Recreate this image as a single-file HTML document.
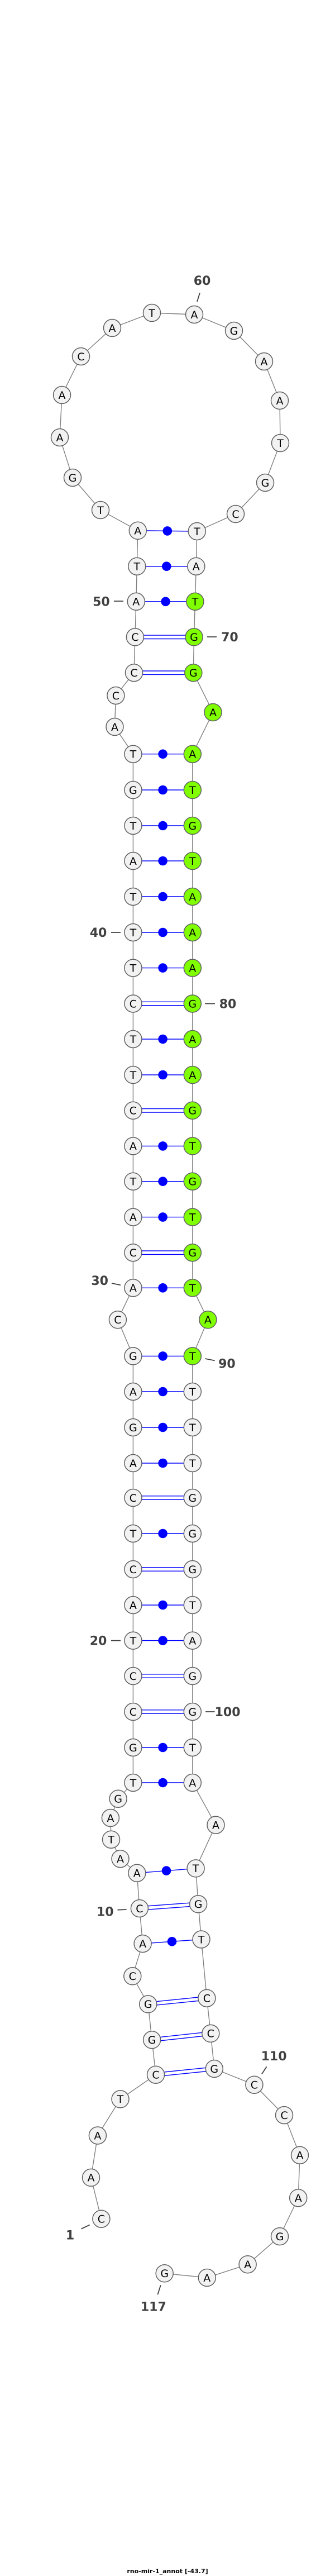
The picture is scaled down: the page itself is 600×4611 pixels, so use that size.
<!DOCTYPE html>
<html><head><meta charset="utf-8"><style>
html,body{margin:0;padding:0;background:#fff}
svg{display:block}
.n circle{fill:#f2f2f2;stroke:#606060;stroke-width:1.5}
.n circle.g{fill:#7fff00}
.n text{font-family:"DejaVu Sans","Liberation Sans",sans-serif;font-size:19px;text-anchor:middle;fill:#000}
.lb{font-family:"DejaVu Sans","Liberation Sans",sans-serif;font-size:22px;font-weight:bold;fill:#404040;text-anchor:middle}
.tk{stroke:#404040;stroke-width:1.8}
.p{stroke:#0000ff;stroke-width:1.4}
</style></head><body>
<svg width="600" height="4611" viewBox="0 0 600 4611" xmlns="http://www.w3.org/2000/svg">
<polyline fill="none" stroke="#808080" stroke-width="1.4" points="181.4,3971.7 163,3897.9 174.9,3822.5 215.5,3757.4 279,3713.7 272.1,3651.3 265.2,3587.4 237.3,3537.3 255.6,3479.1 249.9,3416 245.3,3352.8 215.5,3327.2 199,3292.7 197.9,3254 211.6,3219.7 238.4,3191 238.4,3128 238.4,3064 238.4,3000 238.4,2936.6 238.4,2873 238.4,2809 238.4,2745 238.4,2681 238.4,2619 238.4,2555 238.4,2491 238.4,2427.4 210.9,2362.3 238.4,2305.3 238.4,2242.2 238.4,2178.6 238.4,2114.7 238.4,2051.4 238.4,1987.8 238.4,1924 238.4,1860 238.4,1796.5 238.4,1732.6 238.4,1669 238.4,1605 238.4,1541 238.4,1478 238.4,1414 238.4,1349.7 205.5,1301 207.4,1245 240,1204.2 241.9,1140.3 243.8,1076.8 245.3,1013.7 246.8,949.8 180,913 130,855 107,783 111,707 145,638 201,587 272,560 348,563 419,592 473,647 501,717 502,793 475,864 422,920 352.8,951 351.3,1013.7 349.4,1076.8 347.5,1140.3 346.3,1204.2 381.5,1275 344.8,1349.7 344.8,1414 344.8,1478 344.8,1541 344.8,1605 344.8,1669 344.8,1732.6 344.8,1796.5 344.8,1860 344.8,1924 344.8,1987.8 344.8,2051.4 344.8,2114.7 344.8,2178.6 344.8,2242.2 344.8,2305.3 372.4,2362.3 344.8,2427.4 344.8,2491 344.8,2555 344.8,2619 344.8,2681 344.8,2745 344.8,2809 344.8,2873 344.8,2936.6 344.8,3000 344.8,3064 344.8,3128 344.8,3191 386.5,3266.7 350.6,3344.4 355.1,3408.3 360.5,3471.5 370.4,3576.7 377.3,3639.9 383.8,3703 455.4,3731.7 509,3786.1 537,3857.7 534.2,3934.2 501,4003.1 443.6,4053.2 370.8,4077 294.7,4069.3"/>
<g class="p">
<!-- single pairs -->
<line x1="246.8" y1="949.8" x2="352.8" y2="951"/>
<line x1="245.3" y1="1013.7" x2="351.3" y2="1013.7"/>
<line x1="243.8" y1="1076.8" x2="349.4" y2="1076.8"/>
<line x1="238.4" y1="1349.7" x2="344.8" y2="1349.7"/>
<line x1="238.4" y1="1414" x2="344.8" y2="1414"/>
<line x1="238.4" y1="1478" x2="344.8" y2="1478"/>
<line x1="238.4" y1="1541" x2="344.8" y2="1541"/>
<line x1="238.4" y1="1605" x2="344.8" y2="1605"/>
<line x1="238.4" y1="1669" x2="344.8" y2="1669"/>
<line x1="238.4" y1="1732.6" x2="344.8" y2="1732.6"/>
<line x1="238.4" y1="1860" x2="344.8" y2="1860"/>
<line x1="238.4" y1="1924" x2="344.8" y2="1924"/>
<line x1="238.4" y1="2051.4" x2="344.8" y2="2051.4"/>
<line x1="238.4" y1="2114.7" x2="344.8" y2="2114.7"/>
<line x1="238.4" y1="2178.6" x2="344.8" y2="2178.6"/>
<line x1="238.4" y1="2305.3" x2="344.8" y2="2305.3"/>
<line x1="238.4" y1="2427.4" x2="344.8" y2="2427.4"/>
<line x1="238.4" y1="2491" x2="344.8" y2="2491"/>
<line x1="238.4" y1="2555" x2="344.8" y2="2555"/>
<line x1="238.4" y1="2619" x2="344.8" y2="2619"/>
<line x1="238.4" y1="2745" x2="344.8" y2="2745"/>
<line x1="238.4" y1="2873" x2="344.8" y2="2873"/>
<line x1="238.4" y1="2936.6" x2="344.8" y2="2936.6"/>
<line x1="238.4" y1="3128" x2="344.8" y2="3128"/>
<line x1="238.4" y1="3191" x2="344.8" y2="3191"/>
<line x1="245.3" y1="3352.8" x2="350.6" y2="3344.4"/>
<line x1="255.6" y1="3479.1" x2="360.5" y2="3471.5"/>
<!-- double pairs -->
<line x1="241.9" y1="1137.1" x2="347.5" y2="1137.1"/><line x1="241.9" y1="1143.5" x2="347.5" y2="1143.5"/>
<line x1="240" y1="1201" x2="346.3" y2="1201"/><line x1="240" y1="1207.4" x2="346.3" y2="1207.4"/>
<line x1="238.4" y1="1793.3" x2="344.8" y2="1793.3"/><line x1="238.4" y1="1799.7" x2="344.8" y2="1799.7"/>
<line x1="238.4" y1="1984.6" x2="344.8" y2="1984.6"/><line x1="238.4" y1="1991" x2="344.8" y2="1991"/>
<line x1="238.4" y1="2239" x2="344.8" y2="2239"/><line x1="238.4" y1="2245.4" x2="344.8" y2="2245.4"/>
<line x1="238.4" y1="2677.8" x2="344.8" y2="2677.8"/><line x1="238.4" y1="2684.2" x2="344.8" y2="2684.2"/>
<line x1="238.4" y1="2805.8" x2="344.8" y2="2805.8"/><line x1="238.4" y1="2812.2" x2="344.8" y2="2812.2"/>
<line x1="238.4" y1="2996.8" x2="344.8" y2="2996.8"/><line x1="238.4" y1="3003.2" x2="344.8" y2="3003.2"/>
<line x1="238.4" y1="3060.8" x2="344.8" y2="3060.8"/><line x1="238.4" y1="3067.2" x2="344.8" y2="3067.2"/>
<line x1="249.9" y1="3412.8" x2="355.1" y2="3405.1"/><line x1="249.9" y1="3419.2" x2="355.1" y2="3411.5"/>
<line x1="265.2" y1="3584.2" x2="370.4" y2="3573.5"/><line x1="265.2" y1="3590.6" x2="370.4" y2="3579.9"/>
<line x1="272.1" y1="3648.1" x2="377.3" y2="3636.7"/><line x1="272.1" y1="3654.5" x2="377.3" y2="3643.1"/>
<line x1="279" y1="3710.5" x2="383.8" y2="3699.8"/><line x1="279" y1="3716.9" x2="383.8" y2="3706.2"/>
</g>
<g fill="#0000ff">
<circle cx="299.8" cy="950.4" r="8.3"/><circle cx="298.3" cy="1013.7" r="8.3"/><circle cx="296.6" cy="1076.8" r="8.3"/>
<circle cx="291.6" cy="1349.7" r="8.3"/><circle cx="291.6" cy="1414" r="8.3"/><circle cx="291.6" cy="1478" r="8.3"/>
<circle cx="291.6" cy="1541" r="8.3"/><circle cx="291.6" cy="1605" r="8.3"/><circle cx="291.6" cy="1669" r="8.3"/>
<circle cx="291.6" cy="1732.6" r="8.3"/><circle cx="291.6" cy="1860" r="8.3"/><circle cx="291.6" cy="1924" r="8.3"/>
<circle cx="291.6" cy="2051.4" r="8.3"/><circle cx="291.6" cy="2114.7" r="8.3"/><circle cx="291.6" cy="2178.6" r="8.3"/>
<circle cx="291.6" cy="2305.3" r="8.3"/><circle cx="291.6" cy="2427.4" r="8.3"/><circle cx="291.6" cy="2491" r="8.3"/>
<circle cx="291.6" cy="2555" r="8.3"/><circle cx="291.6" cy="2619" r="8.3"/><circle cx="291.6" cy="2745" r="8.3"/>
<circle cx="291.6" cy="2873" r="8.3"/><circle cx="291.6" cy="2936.6" r="8.3"/><circle cx="291.6" cy="3128" r="8.3"/>
<circle cx="291.6" cy="3191" r="8.3"/><circle cx="298" cy="3348.6" r="8.3"/><circle cx="308" cy="3475.3" r="8.3"/>
</g>
<g class="n">
<circle cx="181.4" cy="3971.7" r="15.5"/><text x="181.4" y="3971.7" dy="0.36em">C</text>
<circle cx="163" cy="3897.9" r="15.5"/><text x="163" y="3897.9" dy="0.36em">A</text>
<circle cx="174.9" cy="3822.5" r="15.5"/><text x="174.9" y="3822.5" dy="0.36em">A</text>
<circle cx="215.5" cy="3757.4" r="15.5"/><text x="215.5" y="3757.4" dy="0.36em">T</text>
<circle cx="279" cy="3713.7" r="15.5"/><text x="279" y="3713.7" dy="0.36em">C</text>
<circle cx="272.1" cy="3651.3" r="15.5"/><text x="272.1" y="3651.3" dy="0.36em">G</text>
<circle cx="265.2" cy="3587.4" r="15.5"/><text x="265.2" y="3587.4" dy="0.36em">G</text>
<circle cx="237.3" cy="3537.3" r="15.5"/><text x="237.3" y="3537.3" dy="0.36em">C</text>
<circle cx="255.6" cy="3479.1" r="15.5"/><text x="255.6" y="3479.1" dy="0.36em">A</text>
<circle cx="249.9" cy="3416" r="15.5"/><text x="249.9" y="3416" dy="0.36em">C</text>
<circle cx="245.3" cy="3352.8" r="15.5"/><text x="245.3" y="3352.8" dy="0.36em">A</text>
<circle cx="215.5" cy="3327.2" r="15.5"/><text x="215.5" y="3327.2" dy="0.36em">A</text>
<circle cx="199" cy="3292.7" r="15.5"/><text x="199" y="3292.7" dy="0.36em">T</text>
<circle cx="197.9" cy="3254" r="15.5"/><text x="197.9" y="3254" dy="0.36em">A</text>
<circle cx="211.6" cy="3219.7" r="15.5"/><text x="211.6" y="3219.7" dy="0.36em">G</text>
<circle cx="238.4" cy="3191" r="15.5"/><text x="238.4" y="3191" dy="0.36em">T</text>
<circle cx="238.4" cy="3128" r="15.5"/><text x="238.4" y="3128" dy="0.36em">G</text>
<circle cx="238.4" cy="3064" r="15.5"/><text x="238.4" y="3064" dy="0.36em">C</text>
<circle cx="238.4" cy="3000" r="15.5"/><text x="238.4" y="3000" dy="0.36em">C</text>
<circle cx="238.4" cy="2936.6" r="15.5"/><text x="238.4" y="2936.6" dy="0.36em">T</text>
<circle cx="238.4" cy="2873" r="15.5"/><text x="238.4" y="2873" dy="0.36em">A</text>
<circle cx="238.4" cy="2809" r="15.5"/><text x="238.4" y="2809" dy="0.36em">C</text>
<circle cx="238.4" cy="2745" r="15.5"/><text x="238.4" y="2745" dy="0.36em">T</text>
<circle cx="238.4" cy="2681" r="15.5"/><text x="238.4" y="2681" dy="0.36em">C</text>
<circle cx="238.4" cy="2619" r="15.5"/><text x="238.4" y="2619" dy="0.36em">A</text>
<circle cx="238.4" cy="2555" r="15.5"/><text x="238.4" y="2555" dy="0.36em">G</text>
<circle cx="238.4" cy="2491" r="15.5"/><text x="238.4" y="2491" dy="0.36em">A</text>
<circle cx="238.4" cy="2427.4" r="15.5"/><text x="238.4" y="2427.4" dy="0.36em">G</text>
<circle cx="210.9" cy="2362.3" r="15.5"/><text x="210.9" y="2362.3" dy="0.36em">C</text>
<circle cx="238.4" cy="2305.3" r="15.5"/><text x="238.4" y="2305.3" dy="0.36em">A</text>
<circle cx="238.4" cy="2242.2" r="15.5"/><text x="238.4" y="2242.2" dy="0.36em">C</text>
<circle cx="238.4" cy="2178.6" r="15.5"/><text x="238.4" y="2178.6" dy="0.36em">A</text>
<circle cx="238.4" cy="2114.7" r="15.5"/><text x="238.4" y="2114.7" dy="0.36em">T</text>
<circle cx="238.4" cy="2051.4" r="15.5"/><text x="238.4" y="2051.4" dy="0.36em">A</text>
<circle cx="238.4" cy="1987.8" r="15.5"/><text x="238.4" y="1987.8" dy="0.36em">C</text>
<circle cx="238.4" cy="1924" r="15.5"/><text x="238.4" y="1924" dy="0.36em">T</text>
<circle cx="238.4" cy="1860" r="15.5"/><text x="238.4" y="1860" dy="0.36em">T</text>
<circle cx="238.4" cy="1796.5" r="15.5"/><text x="238.4" y="1796.5" dy="0.36em">C</text>
<circle cx="238.4" cy="1732.6" r="15.5"/><text x="238.4" y="1732.6" dy="0.36em">T</text>
<circle cx="238.4" cy="1669" r="15.5"/><text x="238.4" y="1669" dy="0.36em">T</text>
<circle cx="238.4" cy="1605" r="15.5"/><text x="238.4" y="1605" dy="0.36em">T</text>
<circle cx="238.4" cy="1541" r="15.5"/><text x="238.4" y="1541" dy="0.36em">A</text>
<circle cx="238.4" cy="1478" r="15.5"/><text x="238.4" y="1478" dy="0.36em">T</text>
<circle cx="238.4" cy="1414" r="15.5"/><text x="238.4" y="1414" dy="0.36em">G</text>
<circle cx="238.4" cy="1349.7" r="15.5"/><text x="238.4" y="1349.7" dy="0.36em">T</text>
<circle cx="205.5" cy="1301" r="15.5"/><text x="205.5" y="1301" dy="0.36em">A</text>
<circle cx="207.4" cy="1245" r="15.5"/><text x="207.4" y="1245" dy="0.36em">C</text>
<circle cx="240" cy="1204.2" r="15.5"/><text x="240" y="1204.2" dy="0.36em">C</text>
<circle cx="241.9" cy="1140.3" r="15.5"/><text x="241.9" y="1140.3" dy="0.36em">C</text>
<circle cx="243.8" cy="1076.8" r="15.5"/><text x="243.8" y="1076.8" dy="0.36em">A</text>
<circle cx="245.3" cy="1013.7" r="15.5"/><text x="245.3" y="1013.7" dy="0.36em">T</text>
<circle cx="246.8" cy="949.8" r="15.5"/><text x="246.8" y="949.8" dy="0.36em">A</text>
<circle cx="180" cy="913" r="15.5"/><text x="180" y="913" dy="0.36em">T</text>
<circle cx="130" cy="855" r="15.5"/><text x="130" y="855" dy="0.36em">G</text>
<circle cx="107" cy="783" r="15.5"/><text x="107" y="783" dy="0.36em">A</text>
<circle cx="111" cy="707" r="15.5"/><text x="111" y="707" dy="0.36em">A</text>
<circle cx="145" cy="638" r="15.5"/><text x="145" y="638" dy="0.36em">C</text>
<circle cx="201" cy="587" r="15.5"/><text x="201" y="587" dy="0.36em">A</text>
<circle cx="272" cy="560" r="15.5"/><text x="272" y="560" dy="0.36em">T</text>
<circle cx="348" cy="563" r="15.5"/><text x="348" y="563" dy="0.36em">A</text>
<circle cx="419" cy="592" r="15.5"/><text x="419" y="592" dy="0.36em">G</text>
<circle cx="473" cy="647" r="15.5"/><text x="473" y="647" dy="0.36em">A</text>
<circle cx="501" cy="717" r="15.5"/><text x="501" y="717" dy="0.36em">A</text>
<circle cx="502" cy="793" r="15.5"/><text x="502" y="793" dy="0.36em">T</text>
<circle cx="475" cy="864" r="15.5"/><text x="475" y="864" dy="0.36em">G</text>
<circle cx="422" cy="920" r="15.5"/><text x="422" y="920" dy="0.36em">C</text>
<circle cx="352.8" cy="951" r="15.5"/><text x="352.8" y="951" dy="0.36em">T</text>
<circle cx="351.3" cy="1013.7" r="15.5"/><text x="351.3" y="1013.7" dy="0.36em">A</text>
<circle class="g" cx="349.4" cy="1076.8" r="15.5"/><text x="349.4" y="1076.8" dy="0.36em">T</text>
<circle class="g" cx="347.5" cy="1140.3" r="15.5"/><text x="347.5" y="1140.3" dy="0.36em">G</text>
<circle class="g" cx="346.3" cy="1204.2" r="15.5"/><text x="346.3" y="1204.2" dy="0.36em">G</text>
<circle class="g" cx="381.5" cy="1275" r="15.5"/><text x="381.5" y="1275" dy="0.36em">A</text>
<circle class="g" cx="344.8" cy="1349.7" r="15.5"/><text x="344.8" y="1349.7" dy="0.36em">A</text>
<circle class="g" cx="344.8" cy="1414" r="15.5"/><text x="344.8" y="1414" dy="0.36em">T</text>
<circle class="g" cx="344.8" cy="1478" r="15.5"/><text x="344.8" y="1478" dy="0.36em">G</text>
<circle class="g" cx="344.8" cy="1541" r="15.5"/><text x="344.8" y="1541" dy="0.36em">T</text>
<circle class="g" cx="344.8" cy="1605" r="15.5"/><text x="344.8" y="1605" dy="0.36em">A</text>
<circle class="g" cx="344.8" cy="1669" r="15.5"/><text x="344.8" y="1669" dy="0.36em">A</text>
<circle class="g" cx="344.8" cy="1732.6" r="15.5"/><text x="344.8" y="1732.6" dy="0.36em">A</text>
<circle class="g" cx="344.8" cy="1796.5" r="15.5"/><text x="344.8" y="1796.5" dy="0.36em">G</text>
<circle class="g" cx="344.8" cy="1860" r="15.5"/><text x="344.8" y="1860" dy="0.36em">A</text>
<circle class="g" cx="344.8" cy="1924" r="15.5"/><text x="344.8" y="1924" dy="0.36em">A</text>
<circle class="g" cx="344.8" cy="1987.8" r="15.5"/><text x="344.8" y="1987.8" dy="0.36em">G</text>
<circle class="g" cx="344.8" cy="2051.4" r="15.5"/><text x="344.8" y="2051.4" dy="0.36em">T</text>
<circle class="g" cx="344.8" cy="2114.7" r="15.5"/><text x="344.8" y="2114.7" dy="0.36em">G</text>
<circle class="g" cx="344.8" cy="2178.6" r="15.5"/><text x="344.8" y="2178.6" dy="0.36em">T</text>
<circle class="g" cx="344.8" cy="2242.2" r="15.5"/><text x="344.8" y="2242.2" dy="0.36em">G</text>
<circle class="g" cx="344.8" cy="2305.3" r="15.5"/><text x="344.8" y="2305.3" dy="0.36em">T</text>
<circle class="g" cx="372.4" cy="2362.3" r="15.5"/><text x="372.4" y="2362.3" dy="0.36em">A</text>
<circle class="g" cx="344.8" cy="2427.4" r="15.5"/><text x="344.8" y="2427.4" dy="0.36em">T</text>
<circle cx="344.8" cy="2491" r="15.5"/><text x="344.8" y="2491" dy="0.36em">T</text>
<circle cx="344.8" cy="2555" r="15.5"/><text x="344.8" y="2555" dy="0.36em">T</text>
<circle cx="344.8" cy="2619" r="15.5"/><text x="344.8" y="2619" dy="0.36em">T</text>
<circle cx="344.8" cy="2681" r="15.5"/><text x="344.8" y="2681" dy="0.36em">G</text>
<circle cx="344.8" cy="2745" r="15.5"/><text x="344.8" y="2745" dy="0.36em">G</text>
<circle cx="344.8" cy="2809" r="15.5"/><text x="344.8" y="2809" dy="0.36em">G</text>
<circle cx="344.8" cy="2873" r="15.5"/><text x="344.8" y="2873" dy="0.36em">T</text>
<circle cx="344.8" cy="2936.6" r="15.5"/><text x="344.8" y="2936.6" dy="0.36em">A</text>
<circle cx="344.8" cy="3000" r="15.5"/><text x="344.8" y="3000" dy="0.36em">G</text>
<circle cx="344.8" cy="3064" r="15.5"/><text x="344.8" y="3064" dy="0.36em">G</text>
<circle cx="344.8" cy="3128" r="15.5"/><text x="344.8" y="3128" dy="0.36em">T</text>
<circle cx="344.8" cy="3191" r="15.5"/><text x="344.8" y="3191" dy="0.36em">A</text>
<circle cx="386.5" cy="3266.7" r="15.5"/><text x="386.5" y="3266.7" dy="0.36em">A</text>
<circle cx="350.6" cy="3344.4" r="15.5"/><text x="350.6" y="3344.4" dy="0.36em">T</text>
<circle cx="355.1" cy="3408.3" r="15.5"/><text x="355.1" y="3408.3" dy="0.36em">G</text>
<circle cx="360.5" cy="3471.5" r="15.5"/><text x="360.5" y="3471.5" dy="0.36em">T</text>
<circle cx="370.4" cy="3576.7" r="15.5"/><text x="370.4" y="3576.7" dy="0.36em">C</text>
<circle cx="377.3" cy="3639.9" r="15.5"/><text x="377.3" y="3639.9" dy="0.36em">C</text>
<circle cx="383.8" cy="3703" r="15.5"/><text x="383.8" y="3703" dy="0.36em">G</text>
<circle cx="455.4" cy="3731.7" r="15.5"/><text x="455.4" y="3731.7" dy="0.36em">C</text>
<circle cx="509" cy="3786.1" r="15.5"/><text x="509" y="3786.1" dy="0.36em">C</text>
<circle cx="537" cy="3857.7" r="15.5"/><text x="537" y="3857.7" dy="0.36em">A</text>
<circle cx="534.2" cy="3934.2" r="15.5"/><text x="534.2" y="3934.2" dy="0.36em">A</text>
<circle cx="501" cy="4003.1" r="15.5"/><text x="501" y="4003.1" dy="0.36em">G</text>
<circle cx="443.6" cy="4053.2" r="15.5"/><text x="443.6" y="4053.2" dy="0.36em">A</text>
<circle cx="370.8" cy="4077" r="15.5"/><text x="370.8" y="4077" dy="0.36em">A</text>
<circle cx="294.7" cy="4069.3" r="15.5"/><text x="294.7" y="4069.3" dy="0.36em">G</text>
</g>
<g>
<line class="tk" x1="358" y1="524" x2="353" y2="540"/><text class="lb" x="362" y="502" dy="0.36em">60</text>
<line class="tk" x1="204" y1="1076" x2="221" y2="1076"/><text class="lb" x="181.4" y="1076.8" dy="0.36em">50</text>
<line class="tk" x1="371" y1="1140" x2="388" y2="1140"/><text class="lb" x="411.4" y="1140.3" dy="0.36em">70</text>
<line class="tk" x1="199" y1="1669" x2="216" y2="1669"/><text class="lb" x="176" y="1669" dy="0.36em">40</text>
<line class="tk" x1="367" y1="1796.5" x2="385" y2="1796.5"/><text class="lb" x="408" y="1796.5" dy="0.36em">80</text>
<line class="tk" x1="200" y1="2297" x2="216" y2="2300.3"/><text class="lb" x="178.7" y="2292.3" dy="0.36em">30</text>
<line class="tk" x1="367.4" y1="2432" x2="384.6" y2="2435.4"/><text class="lb" x="406.4" y="2440.8" dy="0.36em">90</text>
<line class="tk" x1="199" y1="2936.6" x2="216" y2="2936.6"/><text class="lb" x="176" y="2936.6" dy="0.36em">20</text>
<line class="tk" x1="368" y1="3064" x2="384.6" y2="3064"/><text class="lb" x="407.6" y="3064" dy="0.36em">100</text>
<line class="tk" x1="210.5" y1="3418.7" x2="226.6" y2="3418"/><text class="lb" x="188.3" y="3421.7" dy="0.36em">10</text>
<line class="tk" x1="477.6" y1="3699.2" x2="468.8" y2="3712.6"/><text class="lb" x="490.6" y="3680" dy="0.36em">110</text>
<line class="tk" x1="145.4" y1="3989.7" x2="160.7" y2="3982.4"/><text class="lb" x="125.5" y="4000.4" dy="0.36em">1</text>
<line class="tk" x1="287.8" y1="4090.4" x2="282.4" y2="4107.2"/><text class="lb" x="274.8" y="4128.6" dy="0.36em">117</text>
</g>
<text x="300" y="4602" dy="0.36em" text-anchor="middle" style="font-family:'DejaVu Sans','Liberation Sans',sans-serif;font-size:11px;font-weight:bold;fill:#000">rno-mir-1_annot [-43.7]</text>
</svg>
</body></html>
